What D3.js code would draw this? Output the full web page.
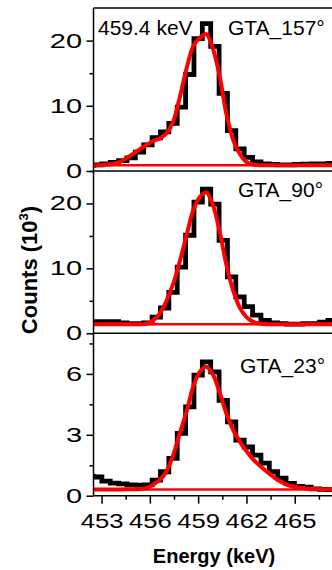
<!DOCTYPE html>
<html>
<head>
<meta charset="utf-8">
<script src="https://cdn.jsdelivr.net/npm/d3@7"></script>
<style>
  body { margin: 0; background: #fff; }
  text { font-family: "Liberation Sans", Arial, sans-serif; fill: #000; }
</style>
</head>
<body>
<svg id="chart" width="332" height="570"></svg>
<script>
// bin centres (keV) of the measured spectra
const energy = [452.24, 452.76, 453.28, 453.80, 454.32, 454.84, 455.36, 455.88, 456.40, 456.92,
  457.44, 457.96, 458.48, 459.00, 459.52, 460.04, 460.56, 461.08, 461.60, 462.12,
  462.64, 463.16, 463.68, 464.20, 464.72, 465.24, 465.76, 466.28, 466.80, 467.32, 467.84];

// counts (10^3)
const counts157 = [0.85, 0.95, 1.1, 1.3, 1.6, 2.0, 2.9, 4.0, 5.1, 6.0,
  7.3, 9.8, 14.8, 20.3, 22.6, 19.1, 11.9, 6.2, 3.4, 2.1,
  1.4, 1.1, 1.0, 0.95, 0.95, 1.0, 1.05, 1.1, 1.1, 1.15, 1.15];
const counts90 = [1.8, 1.8, 1.8, 1.8, 1.6, 1.5, 1.5, 1.6, 2.5, 3.9,
  6.3, 10.2, 15.1, 20.2, 22.2, 19.9, 14.3, 8.7, 5.6, 4.1,
  2.8, 2.0, 1.6, 1.5, 1.4, 1.4, 1.5, 1.5, 1.7, 2.0, 2.2];
const counts23 = [0.95, 0.92, 0.72, 0.62, 0.58, 0.53, 0.52, 0.53, 0.77, 1.18,
  1.84, 3.07, 4.38, 5.94, 6.59, 6.1, 4.7, 3.64, 2.74, 2.4,
  2.0, 1.6, 1.18, 0.86, 0.6, 0.46, 0.42, 0.34, 0.31, 0.3, 0.3];

// fitted peak curves
const fitEnergy = [452.5, 453.5, 454.1, 455.0, 455.4, 455.8, 456.2, 456.6, 457.0, 457.45,
  457.85, 458.3, 458.7, 459.1, 459.5, 459.9, 460.35, 460.75, 461.2, 461.6,
  462.0, 462.4, 462.8, 463.25, 463.65, 464.05, 464.5, 464.9, 465.7, 467.8];
const fit157 = [0.85, 1.05, 1.35, 2.7, 3.4, 4.0, 4.6, 5.0, 5.7, 7.6,
  11.2, 15.9, 19.2, 20.4, 21.0, 18.9, 14.4, 8.8, 4.6, 2.6,
  1.4, 1.0, 0.9, 0.9, 0.9, 0.9, 0.9, 0.9, 0.9, 0.9];
const fit90 = [1.4, 1.4, 1.4, 1.4, 1.4, 1.5, 2.0, 3.0, 4.8, 7.6,
  11.0, 15.3, 19.0, 21.0, 21.7, 19.9, 15.5, 10.6, 6.4, 3.9,
  2.5, 1.8, 1.5, 1.4, 1.4, 1.4, 1.4, 1.4, 1.4, 1.4];
const fit23 = [0.31, 0.31, 0.31, 0.32, 0.33, 0.38, 0.55, 0.77, 1.15, 2.0,
  3.05, 4.2, 5.4, 6.1, 6.35, 6.0, 5.05, 4.05, 3.2, 2.65,
  2.2, 1.8, 1.5, 1.2, 0.95, 0.72, 0.55, 0.45, 0.36, 0.31];

const background = [0.9, 1.4, 0.31];
const labels = ['GTA_157°', 'GTA_90°', 'GTA_23°'];
const yMaxes = [25, 25, 8];
const yMajor = [[0, 10, 20], [0, 10, 20], [0, 3, 6]];
const yMinor = [[5, 15], [5, 15, 25], [1.5, 4.5, 7.5]];
const xMajor = [453, 456, 459, 462, 465];
const xMinor = [454.5, 457.5, 460.5, 463.5, 466.5];

const svg = d3.select('#chart');
const left = 93.5;
const panelTops = [8, 171, 333.3];
const panelBottoms = [171, 333.3, 495.7];
const labelPos = [[228, 35], [238, 197], [240, 373]];

const x = d3.scaleLinear().domain([452.5, 467.6]).range([left, 336.6]);

const spectra = [counts157, counts90, counts23];
const fits = [fit157, fit90, fit23];

spectra.forEach((counts, i) => {
  const top = panelTops[i], bottom = panelBottoms[i];
  const y = d3.scaleLinear().domain([0, yMaxes[i]]).range([bottom, top]);

  svg.append('clipPath').attr('id', 'clip' + i)
    .append('rect')
    .attr('x', left).attr('y', top)
    .attr('width', 260).attr('height', bottom - top);

  const g = svg.append('g').attr('clip-path', 'url(#clip' + i + ')');

  const hist = d3.line()
    .x((d, j) => x(energy[j]))
    .y(d => y(d))
    .curve(d3.curveStep);

  g.append('path')
    .datum(counts)
    .attr('d', hist)
    .attr('fill', 'none')
    .attr('stroke', '#000')
    .attr('stroke-width', 4.8)
    .attr('stroke-linejoin', 'miter')
    .attr('stroke-linecap', 'square');

  g.append('line')
    .attr('x1', left).attr('x2', 340)
    .attr('y1', y(background[i])).attr('y2', y(background[i]))
    .attr('stroke', '#ff0000')
    .attr('stroke-width', 2.5);

  const fitLine = d3.line()
    .x((d, j) => x(fitEnergy[j]))
    .y(d => y(d))
    .curve(d3.curveCatmullRom);

  g.append('path')
    .datum(fits[i])
    .attr('d', fitLine)
    .attr('fill', 'none')
    .attr('stroke', '#ff0000')
    .attr('stroke-width', 4);

  // panel top border
  svg.append('line')
    .attr('x1', left).attr('x2', 332)
    .attr('y1', top).attr('y2', top)
    .attr('stroke', '#000').attr('stroke-width', 1.5);

  // y axis
  const ya = svg.append('g')
    .attr('transform', 'translate(' + left + ',0)')
    .call(d3.axisLeft(y).tickValues(yMajor[i]).tickSize(7).tickPadding(4.5).tickSizeOuter(0));
  ya.select('.domain').remove();
  ya.selectAll('line').attr('stroke-width', 1.5);
  ya.selectAll('text')
    .style('font-size', '20px')
    .attr('transform', 'translate(-11.5,0) scale(1.45,1)')
    .attr('x', 0);

  const ym = svg.append('g')
    .attr('transform', 'translate(' + left + ',0)')
    .call(d3.axisLeft(y).tickValues(yMinor[i]).tickSize(4).tickFormat(''));
  ym.select('.domain').remove();
  ym.selectAll('line').attr('stroke-width', 1.5);

  svg.append('text')
    .attr('x', labelPos[i][0])
    .attr('y', labelPos[i][1])
    .style('font-size', '21px')
    .text(labels[i]);
});

svg.append('text')
  .attr('x', 98).attr('y', 35)
  .style('font-size', '21px')
  .text('459.4 keV');

// continuous left axis line
svg.append('line')
  .attr('x1', left).attr('x2', left)
  .attr('y1', 8).attr('y2', 495.7)
  .attr('stroke', '#000').attr('stroke-width', 1.5);

// x axis
const xa = svg.append('g')
  .attr('transform', 'translate(0,495.7)')
  .call(d3.axisBottom(x).tickValues(xMajor).tickSize(8).tickPadding(9).tickSizeOuter(0));
xa.select('.domain').attr('d', 'M' + left + ',0H340').attr('stroke-width', 1.5);
xa.selectAll('line').attr('stroke-width', 1.5);
xa.selectAll('text')
  .style('font-size', '21px')
  .attr('transform', 'scale(1.22,1)');

const xm = svg.append('g')
  .attr('transform', 'translate(0,495.7)')
  .call(d3.axisBottom(x).tickValues(xMinor).tickSize(4).tickFormat(''));
xm.select('.domain').remove();
xm.selectAll('line').attr('stroke-width', 1.5);

svg.append('text')
  .attr('x', 214).attr('y', 563)
  .attr('text-anchor', 'middle')
  .style('font-size', '20px')
  .style('font-weight', 'bold')
  .text('Energy (keV)');

const yl = svg.append('text')
  .attr('transform', 'translate(37,270) rotate(-90)')
  .attr('text-anchor', 'middle')
  .style('font-size', '22px')
  .style('font-weight', 'bold');
yl.append('tspan').text('Counts (10');
yl.append('tspan').attr('dy', -9).style('font-size', '13px').text('3');
yl.append('tspan').attr('dy', 9).text(')');
</script>
</body>
</html>
